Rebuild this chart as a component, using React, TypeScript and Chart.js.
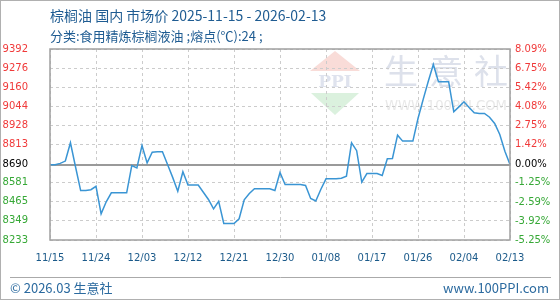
import React, { useEffect, useRef } from "react";
import { Chart, registerables } from "chart.js";

Chart.register(...registerables);

const titleText = "棕榈油 国内 市场价 2025-11-15 - 2026-02-13";
const subtitleText = "分类:食用精炼棕榈液油 ;熔点(℃):24 ;";
const footerLeft = "© 2026.03 生意社";
const footerRight = "www.100PPI.com";

const startDay = "2025-11-15";
const dayCount = 91;

const xTickLabels = ["11/15", "11/24", "12/03", "12/12", "12/21", "12/30", "01/08", "01/17", "01/26", "02/04", "02/13"];

const prices = [
  8690, 8690, 8698, 8712, 8823, 8676, 8533, 8533, 8538, 8559,
  8392, 8465, 8519, 8519, 8519, 8519, 8685, 8671, 8806, 8701,
  8766, 8768, 8768, 8691, 8613, 8529, 8647, 8566, 8566, 8566,
  8523, 8479, 8422, 8468, 8333, 8333, 8333, 8362, 8477, 8515,
  8544, 8544, 8544, 8544, 8533, 8643, 8570, 8570, 8570, 8570,
  8564, 8485, 8470, 8541, 8604, 8604, 8604, 8608, 8620, 8823,
  8775, 8584, 8636, 8636, 8636, 8624, 8726, 8728, 8869, 8833,
  8833, 8833, 8970, 9085, 9195, 9298, 9193, 9193, 9193, 9011,
  9041, 9072, 9037, 9005, 9001, 9001, 8978, 8940, 8873, 8772,
  8691,
];

const baseValue = 8690;
const leftTicks = [9392, 9276, 9160, 9044, 8928, 8813, 8690, 8581, 8465, 8349, 8233];
const rightTicks = [8.09, 6.75, 5.42, 4.08, 2.75, 1.42, 0.0, -1.25, -2.59, -3.92, -5.25];

const RED = "#f03a3a";
const GREEN = "#36a836";
const BLACK = "#000000";
const BLUE_TEXT = "#1f5c92";

function buildCategories(): string[] {
  const out: string[] = [];
  const d0 = new Date(startDay + "T00:00:00Z");
  for (let i = 0; i < dayCount; i++) {
    const d = new Date(d0.getTime() + i * 86400000);
    const mm = String(d.getUTCMonth() + 1).padStart(2, "0");
    const dd = String(d.getUTCDate()).padStart(2, "0");
    out.push(mm + "/" + dd);
  }
  return out;
}

const decorPlugin = {
  id: "decor",
  beforeDraw(chart: any) {
    const { ctx, width, height } = chart;
    ctx.save();
    ctx.fillStyle = "#ffffff";
    ctx.fillRect(0, 0, width, height);

    // watermark logo
    ctx.fillStyle = "#f9dcd8";
    ctx.beginPath();
    ctx.moveTo(335, 51);
    ctx.lineTo(360, 71);
    ctx.lineTo(310, 71);
    ctx.closePath();
    ctx.fill();
    ctx.fillStyle = "#dbf1de";
    ctx.beginPath();
    ctx.moveTo(311, 93);
    ctx.lineTo(359, 93);
    ctx.lineTo(335, 115);
    ctx.closePath();
    ctx.fill();
    ctx.fillStyle = "#dfe3ee";
    ctx.font = 'bold 17px "DejaVu Serif"';
    ctx.textAlign = "center";
    ctx.textBaseline = "middle";
    ctx.fillText("PPI", 335, 83);

    ctx.fillStyle = "#dde1eb";
    ctx.font = '34px "Noto Sans CJK SC"';
    const chars = ["生", "意", "社"];
    const cx = [401, 446, 491];
    chars.forEach((c, i) => ctx.fillText(c, cx[i], 71));
    ctx.fillStyle = "#e8e8e8";
    ctx.font = '14px "DejaVu Sans"';
    ctx.fillText("WWW.100PPI.COM", 446, 106, 122);
    ctx.restore();
  },
  afterDraw(chart: any) {
    const { ctx, chartArea, width, height } = chart;
    ctx.save();
    // plot frame
    ctx.strokeStyle = "#a0a0a0";
    ctx.lineWidth = 1.5;
    ctx.strokeRect(chartArea.left, chartArea.top, chartArea.right - chartArea.left, chartArea.bottom - chartArea.top);

    // titles
    ctx.fillStyle = BLUE_TEXT;
    ctx.textAlign = "left";
    ctx.textBaseline = "middle";
    ctx.font = '14px "Noto Sans CJK SC"';
    ctx.fillText(titleText, 50, 16);
    ctx.font = '13px "Noto Sans CJK SC"';
    ctx.fillText(subtitleText, 50, 36);

    // footer
    ctx.strokeStyle = "#aaaaaa";
    ctx.lineWidth = 1;
    ctx.beginPath();
    ctx.moveTo(10, 277.5);
    ctx.lineTo(551, 277.5);
    ctx.stroke();
    ctx.fillStyle = "#2b6a9f";
    ctx.font = '13px "Noto Sans CJK SC"';
    ctx.fillText(footerLeft, 10, 288);
    ctx.textAlign = "right";
    ctx.fillText(footerRight, 549, 288);

    // outer border
    ctx.strokeStyle = "#b0b0b0";
    ctx.lineWidth = 1;
    ctx.strokeRect(0.5, 0.5, width - 1, height - 1);
    ctx.restore();
  },
};

export default function App() {
  const canvasRef = useRef<HTMLCanvasElement | null>(null);

  useEffect(() => {
    const canvas = canvasRef.current;
    if (!canvas) return;
    const categories = buildCategories();
    const chart = new Chart(canvas, {
      type: "line",
      data: {
        labels: categories,
        datasets: [
          {
            data: prices,
            borderColor: "#3a95d4",
            borderWidth: 1.5,
            pointRadius: 0,
            tension: 0,
            fill: false,
            yAxisID: "y",
          },
        ],
      },
      options: {
        responsive: false,
        animation: false,
        devicePixelRatio: 1,
        layout: { padding: { top: 49, left: 0, right: 0, bottom: 0 } },
        plugins: {
          legend: { display: false },
          tooltip: { enabled: false },
          title: { display: false },
        },
        scales: {
          x: {
            type: "category",
            offset: false,
            afterFit: (scale: any) => {
              scale.height = 60;
            },
            afterBuildTicks: (scale: any) => {
              scale.ticks = scale.ticks.filter((t: any) => xTickLabels.includes(categories[t.value]));
            },
            ticks: {
              autoSkip: false,
              maxRotation: 0,
              minRotation: 0,
              padding: 12,
              color: "#1b5a8a",
              font: { family: "DejaVu Sans", size: 10 },
              callback: (value: any) => categories[value as number],
            },
            grid: {
              color: "#cccccc",
              lineWidth: 1,
              drawTicks: false,
            },
            border: { display: false, dash: [3, 3] },
          },
          y: {
            type: "linear",
            position: "left",
            min: leftTicks[leftTicks.length - 1],
            max: leftTicks[0],
            afterFit: (scale: any) => {
              scale.width = 50;
            },
            afterBuildTicks: (scale: any) => {
              scale.ticks = leftTicks.map((v) => ({ value: v }));
            },
            ticks: {
              padding: 22,
              font: { family: "DejaVu Sans", size: 10 },
              color: (ctx: any) => {
                const v = ctx.tick ? ctx.tick.value : 0;
                return v > baseValue ? RED : v === baseValue ? BLACK : GREEN;
              },
              callback: (value: any) => String(value),
            },
            grid: {
              drawTicks: false,
              color: (ctx: any) => (ctx.tick && ctx.tick.value === baseValue ? "#9a9a9a" : "#cccccc"),
              lineWidth: (ctx: any) => (ctx.tick && ctx.tick.value === baseValue ? 2 : 1),
            },
            border: {
              display: false,
              dash: (ctx: any) => (ctx.tick && ctx.tick.value === baseValue ? [] : [3, 3]),
            },
          },
          y1: {
            type: "linear",
            position: "right",
            min: rightTicks[rightTicks.length - 1],
            max: rightTicks[0],
            afterFit: (scale: any) => {
              scale.width = 50;
            },
            afterBuildTicks: (scale: any) => {
              scale.ticks = rightTicks.map((v) => ({ value: v }));
            },
            ticks: {
              padding: 5,
              font: { family: "DejaVu Sans", size: 10 },
              color: (ctx: any) => {
                const v = ctx.tick ? ctx.tick.value : 0;
                return v > 0 ? RED : v === 0 ? BLACK : GREEN;
              },
              callback: (value: any) => Number(value).toFixed(2) + "%",
            },
            grid: { drawOnChartArea: false, drawTicks: false },
            border: { display: false },
          },
        },
      },
      plugins: [decorPlugin],
    });
    return () => chart.destroy();
  }, []);

  return (
    <div style={{ position: "absolute", left: 0, top: 0, width: 560, height: 300 }}>
      <canvas ref={canvasRef} width={560} height={300} />
    </div>
  );
}
